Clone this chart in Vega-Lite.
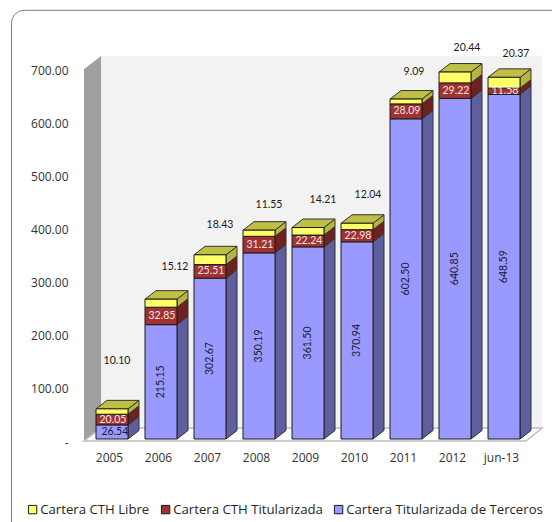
{
"$schema":"https://vega.github.io/schema/vega-lite/v6.json",
"width":458,"height":372,
"autosize":{"type":"none"},
"padding":{"left":84,"top":67,"right":10,"bottom":83},
"background":"white",
"config":{"view":{"stroke":null},"text":{"font":"Lato"},"axis":{"labelFont":"Open Sans","labelFontSize":12,"labelFontWeight":400,"labelColor":"#333333"}},
"datasets":{
"bars":[
{"period":"2005","series":"Cartera Titularizada de Terceros","value":26.54},{"period":"2005","series":"Cartera CTH Titularizada","value":20.05},{"period":"2005","series":"Cartera CTH Libre","value":10.10},
{"period":"2006","series":"Cartera Titularizada de Terceros","value":215.15},{"period":"2006","series":"Cartera CTH Titularizada","value":32.85},{"period":"2006","series":"Cartera CTH Libre","value":15.12},
{"period":"2007","series":"Cartera Titularizada de Terceros","value":302.67},{"period":"2007","series":"Cartera CTH Titularizada","value":25.51},{"period":"2007","series":"Cartera CTH Libre","value":18.43},
{"period":"2008","series":"Cartera Titularizada de Terceros","value":350.19},{"period":"2008","series":"Cartera CTH Titularizada","value":31.21},{"period":"2008","series":"Cartera CTH Libre","value":11.55},
{"period":"2009","series":"Cartera Titularizada de Terceros","value":361.50},{"period":"2009","series":"Cartera CTH Titularizada","value":22.24},{"period":"2009","series":"Cartera CTH Libre","value":14.21},
{"period":"2010","series":"Cartera Titularizada de Terceros","value":370.94},{"period":"2010","series":"Cartera CTH Titularizada","value":22.98},{"period":"2010","series":"Cartera CTH Libre","value":12.04},
{"period":"2011","series":"Cartera Titularizada de Terceros","value":602.50},{"period":"2011","series":"Cartera CTH Titularizada","value":28.09},{"period":"2011","series":"Cartera CTH Libre","value":9.09},
{"period":"2012","series":"Cartera Titularizada de Terceros","value":640.85},{"period":"2012","series":"Cartera CTH Titularizada","value":29.22},{"period":"2012","series":"Cartera CTH Libre","value":20.44},
{"period":"jun-13","series":"Cartera Titularizada de Terceros","value":648.59},{"period":"jun-13","series":"Cartera CTH Titularizada","value":11.58},{"period":"jun-13","series":"Cartera CTH Libre","value":20.37}
],
"frame":[{"x":-1.99,"x2":10,"y":806.7,"y2":-228}],
"wall":[{"x":-0.163,"x2":8.837,"y":720.7,"y2":20.7}],
"sidewall":[{"x":-0.5102,"lo":-3.8,"hi":696},{"x":-0.163,"lo":20.7,"hi":720.7}],
"floor":[{"x":-0.5102,"lo":-3.8,"hi":-3.8},{"x":-0.163,"lo":-3.8,"hi":20.7},{"x":8.51,"lo":-3.8,"hi":20.7},{"x":8.837,"lo":20.7,"hi":20.7}]
},
"resolve":{"scale":{"color":"independent"}},
"layer":[
{"data":{"name":"frame"},"mark":{"type":"rect","fill":null,"fillOpacity":0,"stroke":"#7f7f7f","strokeWidth":1,"cornerRadius":13},
 "encoding":{
 "x":{"field":"x","type":"quantitative","title":null,"scale":{"domain":[-0.5102,8.8367],"nice":false,"zero":false},
  "axis":{"values":[0,1,2,3,4,5,6,7,8],"labelExpr":"datum.value==8?'jun-13':''+(2005+datum.value)","domain":false,"ticks":false,"grid":false,"labelPadding":13,"labelAngle":0,"labelFlush":false,"labelOverlap":false}},
 "x2":{"field":"x2"},
 "y":{"field":"y","type":"quantitative","title":null,"scale":{"domain":[0,700],"nice":false,"zero":false},
  "axis":{"values":[0,100,200,300,400,500,600,700],"labelExpr":"datum.value==0?'-\u00a0\u00a0':format(datum.value,'.2f')","domain":false,"ticks":false,"grid":false,"labelPadding":16,"labelOffset":3,"labelOverlap":false,"labelFlush":false}},
 "y2":{"field":"y2"}}},
{"data":{"name":"wall"},"mark":{"type":"rect","fill":"#f2f2f2"},
 "encoding":{"x":{"field":"x","type":"quantitative","title":null},"x2":{"field":"x2"},
 "y":{"field":"y","type":"quantitative","title":null},"y2":{"field":"y2"}}},
{"data":{"name":"sidewall"},"mark":{"type":"area","fill":"#a0a0a0"},
 "encoding":{"x":{"field":"x","type":"quantitative","title":null},
 "y":{"field":"lo","type":"quantitative","stack":null,"title":null},"y2":{"field":"hi"}}},
{"data":{"name":"floor"},"mark":{"type":"area","fill":"#ffffff","stroke":"#bdbdbd","strokeWidth":1.5},
 "encoding":{"x":{"field":"x","type":"quantitative","title":null},
 "y":{"field":"lo","type":"quantitative","stack":null,"title":null},"y2":{"field":"hi"}}},
{"data":{"name":"bars"},
 "transform":[
  {"stack":"value","groupby":["period"],"sort":[{"field":"series","order":"descending"}],"as":["y0","y1"]},
  {"calculate":"indexof(['2005','2006','2007','2008','2009','2010','2011','2012','jun-13'],datum.period)","as":"i"},
  {"calculate":"[0,1]","as":"t"},{"flatten":["t"]},
  {"calculate":"datum.i+0.388+datum.t*0.2245","as":"sx"},
  {"calculate":"datum.y0+datum.t*16","as":"lo"},
  {"calculate":"datum.y1+datum.t*16","as":"hi"}],
 "mark":{"type":"area","stroke":"#333333","strokeWidth":1},
 "encoding":{"x":{"field":"sx","type":"quantitative","title":null},
 "y":{"field":"lo","type":"quantitative","stack":null,"title":null},"y2":{"field":"hi"},
 "detail":{"field":"period"},
 "color":{"field":"series","type":"nominal","legend":null,"scale":{"domain":["Cartera CTH Libre","Cartera CTH Titularizada","Cartera Titularizada de Terceros"],"range":["#b5b53f","#6f2020","#5f5f9e"]}}}},
{"data":{"name":"bars"},
 "transform":[
  {"stack":"value","groupby":["period"],"sort":[{"field":"series","order":"descending"}],"as":["y0","y1"]},
  {"filter":"datum.series==='Cartera CTH Libre'"},
  {"calculate":"indexof(['2005','2006','2007','2008','2009','2010','2011','2012','jun-13'],datum.period)","as":"i"},
  {"calculate":"[0,1,2,3]","as":"t"},{"flatten":["t"]},
  {"calculate":"datum.i-0.265+[0,0.2245,0.653,0.8776][datum.t]","as":"sx"},
  {"calculate":"datum.y1+[0,0,0,16][datum.t]","as":"lo"},
  {"calculate":"datum.y1+[0,16,16,16][datum.t]","as":"hi"}],
 "mark":{"type":"area","fill":"#bfbf45","stroke":"#333333","strokeWidth":1},
 "encoding":{"x":{"field":"sx","type":"quantitative","title":null},
 "y":{"field":"lo","type":"quantitative","stack":null,"title":null},"y2":{"field":"hi"},
 "detail":{"field":"period"}}},
{"data":{"name":"bars"},
 "transform":[
  {"stack":"value","groupby":["period"],"sort":[{"field":"series","order":"descending"}],"as":["y0","y1"]},
  {"calculate":"indexof(['2005','2006','2007','2008','2009','2010','2011','2012','jun-13'],datum.period)","as":"i"},
  {"calculate":"datum.i-0.265","as":"fx"},{"calculate":"datum.i+0.388","as":"fx2"}],
 "mark":{"type":"rect","stroke":"#1a1a1a","strokeWidth":1},
 "encoding":{"x":{"field":"fx","type":"quantitative","title":null},"x2":{"field":"fx2"},
 "y":{"field":"y1","type":"quantitative","title":null},"y2":{"field":"y0"},
 "color":{"field":"series","type":"nominal","scale":{"domain":["Cartera CTH Libre","Cartera CTH Titularizada","Cartera Titularizada de Terceros"],"range":["#ffff66","#a03232","#9999ff"]},
  "legend":{"title":null,"orient":"none","legendX":-58,"legendY":436,"direction":"horizontal","columns":3,"gridAlign":"none","columnPadding":9,"symbolType":"square","symbolSize":70,"symbolStrokeColor":"#1a1a1a","symbolStrokeWidth":1,"symbolOpacity":1,"labelFont":"Open Sans","labelFontSize":13.2,"labelColor":"#262626","labelLimit":400,"labelOffset":1,"labelExpr":"datum.label==='Cartera CTH Titularizada'?datum.label+'\u00a0\u00a0\u00a0\u00a0\u00a0':datum.label"}}}},
{"data":{"name":"bars"},
 "transform":[
  {"stack":"value","groupby":["period"],"sort":[{"field":"series","order":"descending"}],"as":["y0","y1"]},
  {"filter":"datum.series==='Cartera Titularizada de Terceros' && datum.period!=='2005'"},
  {"calculate":"indexof(['2005','2006','2007','2008','2009','2010','2011','2012','jun-13'],datum.period)+0.061","as":"cx"},
  {"calculate":"(datum.y0+datum.y1)/2","as":"cy"}],
 "mark":{"type":"text","angle":270,"fontSize":10.5,"font":"Lato","color":"#1a1a33"},
 "encoding":{"x":{"field":"cx","type":"quantitative","title":null},
 "y":{"field":"cy","type":"quantitative","title":null},
 "text":{"field":"value","type":"quantitative","format":".2f"}}},
{"data":{"name":"bars"},
 "transform":[
  {"stack":"value","groupby":["period"],"sort":[{"field":"series","order":"descending"}],"as":["y0","y1"]},
  {"filter":"datum.series==='Cartera Titularizada de Terceros' && datum.period==='2005'"},
  {"calculate":"0.12","as":"cx"},
  {"calculate":"(datum.y0+datum.y1)/2","as":"cy"}],
 "mark":{"type":"text","fontSize":10.5,"font":"Lato","color":"#1a1a33"},
 "encoding":{"x":{"field":"cx","type":"quantitative","title":null},
 "y":{"field":"cy","type":"quantitative","title":null},
 "text":{"field":"value","type":"quantitative","format":".2f"}}},
{"data":{"name":"bars"},
 "transform":[
  {"stack":"value","groupby":["period"],"sort":[{"field":"series","order":"descending"}],"as":["y0","y1"]},
  {"filter":"datum.series==='Cartera CTH Titularizada'"},
  {"calculate":"indexof(['2005','2006','2007','2008','2009','2010','2011','2012','jun-13'],datum.period)+0.08","as":"cx"},
  {"calculate":"(datum.y0+datum.y1)/2","as":"cy"}],
 "mark":{"type":"text","fontSize":10.5,"font":"Lato","color":"#f5e6e6"},
 "encoding":{"x":{"field":"cx","type":"quantitative","title":null},
 "y":{"field":"cy","type":"quantitative","title":null},
 "text":{"field":"value","type":"quantitative","format":".2f"}}},
{"data":{"name":"bars"},
 "transform":[
  {"stack":"value","groupby":["period"],"sort":[{"field":"series","order":"descending"}],"as":["y0","y1"]},
  {"filter":"datum.series==='Cartera CTH Libre'"},
  {"calculate":"indexof(['2005','2006','2007','2008','2009','2010','2011','2012','jun-13'],datum.period)","as":"i"},
  {"calculate":"datum.i+0.061+[5,14,10,10,15,11,8,12,12][datum.i]/49","as":"cx"},
  {"calculate":"datum.y1+[90,60.6,56,47,52,53,51,45,44][datum.i]","as":"cy"}],
 "mark":{"type":"text","fontSize":10.5,"font":"Lato","color":"#1a1a1a"},
 "encoding":{"x":{"field":"cx","type":"quantitative","title":null},
 "y":{"field":"cy","type":"quantitative","title":null},
 "text":{"field":"value","type":"quantitative","format":".2f"}}}
]
}
